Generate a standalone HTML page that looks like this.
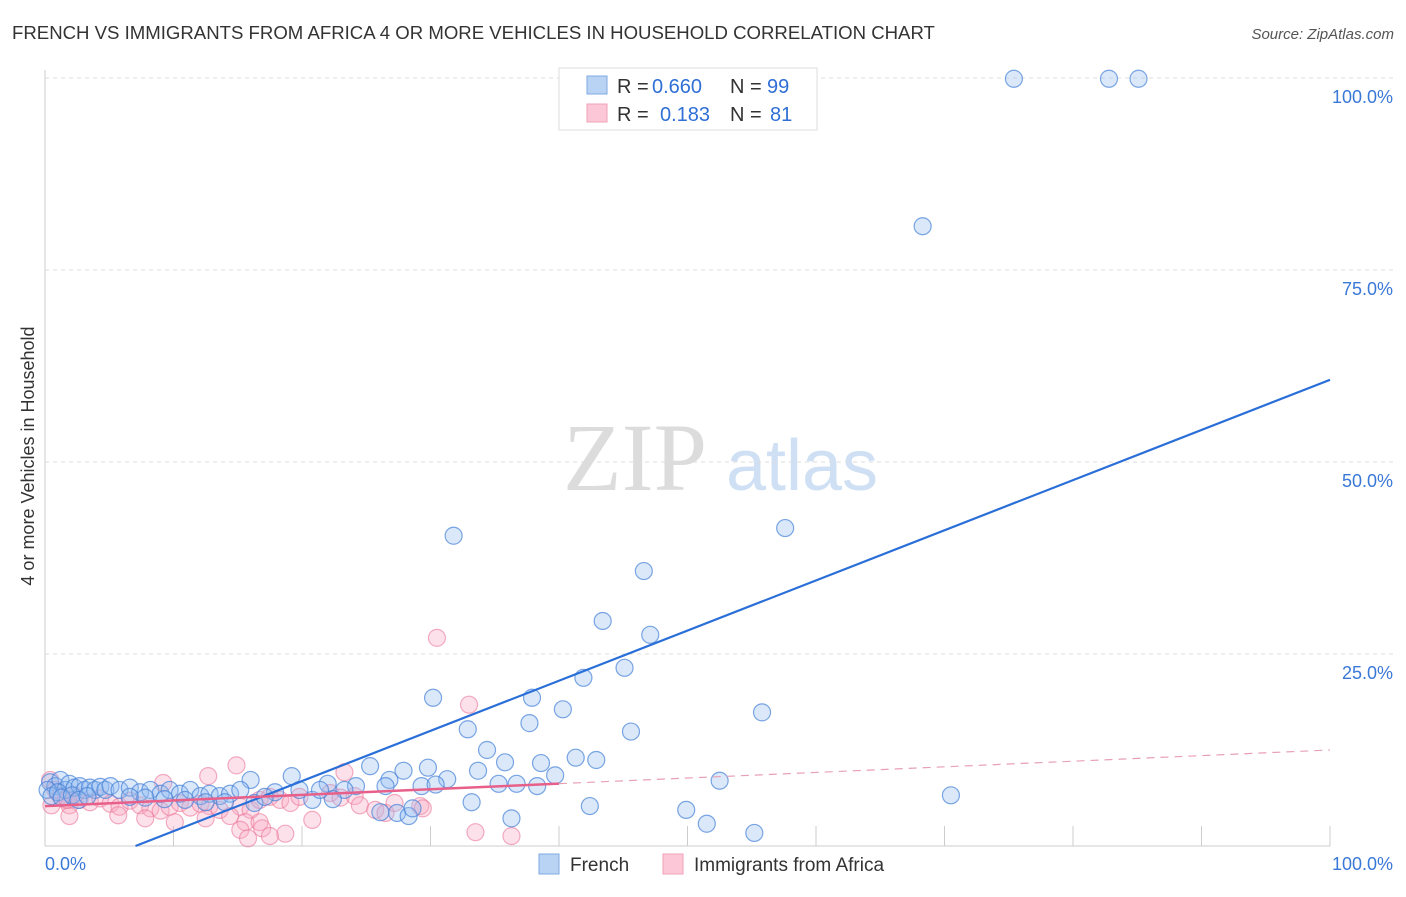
<!DOCTYPE html>
<html><head><meta charset="utf-8"><style>
body{margin:0;background:#fff;font-family:"Liberation Sans",sans-serif}
</style></head><body>
<svg id="c" width="1406" height="892" font-family="Liberation Sans, sans-serif">
<text x="12" y="39" font-size="18.6" fill="#333">FRENCH VS IMMIGRANTS FROM AFRICA 4 OR MORE VEHICLES IN HOUSEHOLD CORRELATION CHART</text>
<text x="1394" y="39" font-size="15" fill="#555" font-style="italic" text-anchor="end">Source: ZipAtlas.com</text>
<text x="34" y="456" font-size="18" fill="#333" text-anchor="middle" transform="rotate(-90 34 456)">4 or more Vehicles in Household</text>
<g><text x="635" y="490" font-size="96" fill="#dcdcdc" style="font-family:'Liberation Serif',serif" text-anchor="middle">ZIP</text><text x="802" y="490" font-size="72" fill="#cfe0f5" text-anchor="middle">atlas</text></g>
<g id="grid"></g><g id="pts"></g><g id="lines"></g>
<g>
<rect x="559" y="68" width="258" height="62" fill="#fff" stroke="#ddd"/>
<rect x="587" y="76" width="20" height="18" fill="#b8d3f3" stroke="#7fa9e0"/>
<rect x="587" y="104" width="20" height="18" fill="#fcc7d6" stroke="#f0a0b8"/>
<text x="617" y="93" font-size="20" fill="#333">R =</text><text x="652" y="93" font-size="20" fill="#2f6fd6">0.660</text>
<text x="730" y="93" font-size="20" fill="#333">N =</text><text x="767" y="93" font-size="20" fill="#2f6fd6">99</text>
<text x="617" y="121" font-size="20" fill="#333">R =</text><text x="660" y="121" font-size="20" fill="#2f6fd6">0.183</text>
<text x="730" y="121" font-size="20" fill="#333">N =</text><text x="770" y="121" font-size="20" fill="#2f6fd6">81</text>
</g>
<g>
<rect x="539" y="854" width="20" height="20" fill="#b8d3f3" stroke="#7fa9e0"/>
<text x="570" y="871" font-size="19" fill="#333">French</text>
<rect x="663" y="854" width="20" height="20" fill="#fcc7d6" stroke="#f0a0b8"/>
<text x="694" y="871" font-size="19" fill="#333">Immigrants from Africa</text>
</g>
<text x="45" y="870" font-size="18" fill="#3a78d8">0.0%</text>
<text x="1393" y="870" font-size="18" fill="#3a78d8" text-anchor="end">100.0%</text>
</svg>
<script>
const yTicks=[25,50,75,100];
const yTickLabels=["25.0%","50.0%","75.0%","100.0%"];
const frenchX=[75.4,82.8,85.1,68.3,31.8,57.6,46.6,43.4,47.1,45.1,41.9,30.2,37.9,40.3,55.8,37.7,32.9,45.6,34.4,41.3,42.9,35.8,38.6,25.3,29.8,27.9,33.7,19.2,39.7,31.3,26.8,16.0,52.5,35.3,36.7,38.3,29.3,30.4,22.0,24.2,26.5,23.3,19.8,17.9,33.2,42.4,70.5,49.9,27.4,26.1,28.3,28.6,36.3,51.5,55.2,16.3,17.1,20.8,22.4,21.4,0.4,0.8,1.2,1.6,1.9,2.3,2.7,3.1,3.5,3.9,4.3,4.7,5.1,5.8,6.6,7.4,8.2,9.0,9.7,10.5,11.3,12.1,12.8,13.6,14.4,15.2,0.2,0.5,1.0,1.3,2.1,2.6,3.3,6.6,7.8,9.3,10.9,12.5,14.0];
const frenchY=[99.9,99.9,99.9,80.7,40.4,41.4,35.8,29.3,27.5,23.2,21.9,19.3,19.3,17.8,17.4,16.0,15.2,14.9,12.5,11.5,11.2,10.9,10.8,10.4,10.2,9.8,9.8,9.1,9.2,8.7,8.6,8.6,8.5,8.1,8.1,7.8,7.8,8.0,8.1,7.8,7.8,7.3,7.3,7.0,5.7,5.2,6.6,4.7,4.3,4.4,3.9,4.9,3.6,2.9,1.7,5.6,6.4,6.0,6.1,7.3,8.3,7.8,8.6,7.3,8.1,7.6,7.8,7.3,7.6,7.3,7.7,7.3,7.8,7.3,7.6,7.0,7.3,6.8,7.3,6.8,7.3,6.5,6.8,6.5,6.8,7.3,7.3,6.5,7.0,6.3,6.6,6.0,6.5,6.4,6.3,6.1,6.0,5.7,5.7];
const africaX=[30.5,33.0,14.9,23.3,12.7,9.2,0.4,0.8,1.2,1.6,1.9,2.3,2.7,3.5,4.3,5.1,5.8,6.6,7.4,8.2,9.0,9.7,10.5,11.3,12.1,12.8,13.6,15.2,16.0,16.7,17.5,18.3,19.1,19.8,22.2,23.0,24.1,24.5,25.7,26.5,27.2,29.2,1.9,5.7,7.8,10.1,12.5,14.4,15.6,16.7,20.8,15.2,16.9,18.7,15.8,17.5,33.5,36.3,29.4,1.8,0.5];
const africaY=[27.1,18.4,10.5,9.6,9.1,8.2,8.6,7.3,6.5,6.0,5.3,6.6,6.0,5.7,6.2,5.5,5.1,5.9,5.3,4.9,4.6,5.1,5.6,5.0,5.5,5.2,4.7,5.1,4.7,6.0,6.4,6.0,5.6,6.4,6.9,6.3,6.5,5.3,4.7,4.3,5.6,5.2,3.9,4.0,3.6,3.1,3.6,3.9,3.1,3.1,3.4,2.1,2.3,1.6,1.0,1.3,1.8,1.3,4.9,6.0,5.3];
const blueFit=[-4.6,0.653];
const pinkFit=[5.2,0.073];
const X=v=>45+v*12.85, Y=v=>846-v*7.68;
const NS="http://www.w3.org/2000/svg";
function mk(t,a,p){const e=document.createElementNS(NS,t);for(const k in a)e.setAttribute(k,a[k]);p.appendChild(e);return e;}
const grid=document.getElementById('grid');
mk('line',{x1:45,y1:70,x2:45,y2:846,stroke:'#ccc'},grid);
mk('line',{x1:45,y1:846,x2:1330,y2:846,stroke:'#ccc'},grid);
for(let i=1;i<=10;i++){mk('line',{x1:X(i*10),y1:826,x2:X(i*10),y2:846,stroke:'#ccc'},grid);}
yTicks.forEach((t,i)=>{
 const g=mk('line',{x1:45,y1:Y(t),x2:1394,y2:Y(t),stroke:'#ddd','stroke-dasharray':'4,4'},grid);
 
 
 const tx=mk('text',{x:1393,y:Y(t)+25,'font-size':18,fill:'#3a78d8','text-anchor':'end'},grid);
 tx.textContent=yTickLabels[i];
 
 
});
const pts=document.getElementById('pts');
africaX.forEach((x,i)=>{const c=mk('circle',{cx:X(x),cy:Y(africaY[i]),r:8.5,fill:'rgba(248,170,195,0.35)',stroke:'rgba(235,120,155,0.6)','stroke-width':1.2},pts);
 
 });
frenchX.forEach((x,i)=>{const c=mk('circle',{cx:X(x),cy:Y(frenchY[i]),r:8.5,fill:'rgba(150,190,240,0.35)',stroke:'rgba(70,130,215,0.7)','stroke-width':1.2},pts);
 
 });
const ln=document.getElementById('lines');
const x0=-blueFit[0]/blueFit[1];
const b=mk('line',{x1:X(x0),y1:Y(0),x2:X(100),y2:Y(blueFit[0]+blueFit[1]*100),stroke:'#2a6fd8','stroke-width':2.2},ln);


const p1=mk('line',{x1:X(0),y1:Y(pinkFit[0]),x2:X(40),y2:Y(pinkFit[0]+pinkFit[1]*40),stroke:'#e8608a','stroke-width':2.5},ln);


const p2=mk('line',{x1:X(40),y1:Y(pinkFit[0]+pinkFit[1]*40),x2:X(100),y2:Y(pinkFit[0]+pinkFit[1]*100),stroke:'#e8a0b5','stroke-width':1.2,'stroke-dasharray':'8,6'},ln);


</script>
</body></html>
